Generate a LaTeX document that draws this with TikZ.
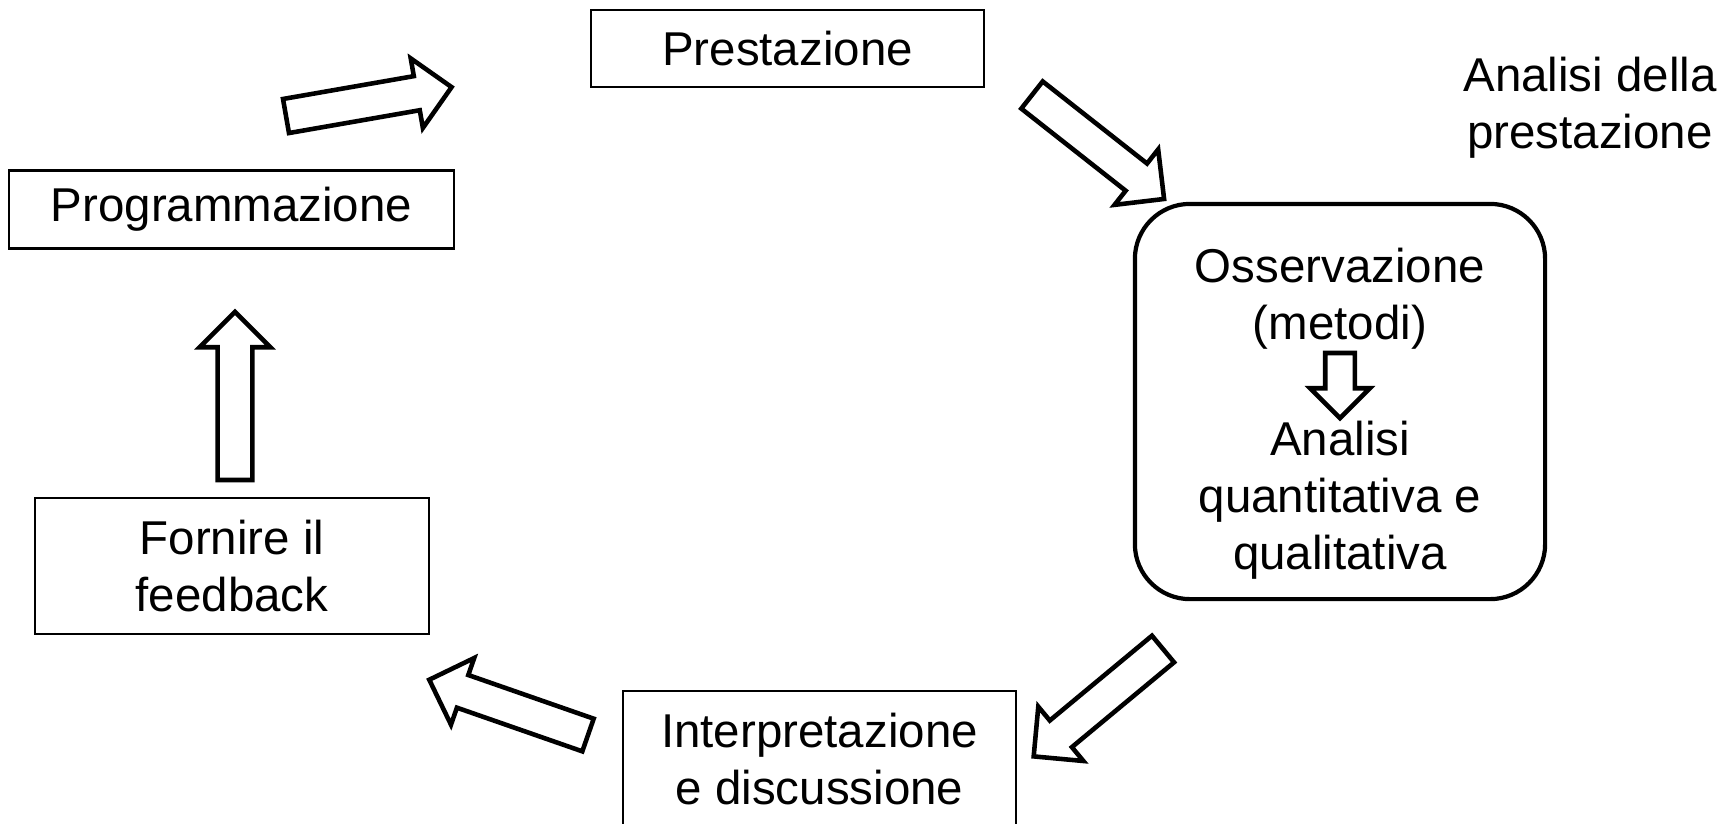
\documentclass[tikz,border=0pt]{standalone}
\usepackage{fontspec}
\setmainfont{Liberation Sans}
\usetikzlibrary{shapes.arrows, positioning}

\begin{document}
\begin{tikzpicture}[
  x=0.01cm, y=-0.01cm,
  box/.style={rectangle, draw, line width=0.6pt, align=center, inner sep=0pt, font=\fontsize{13.5}{16.2}\selectfont},
  lbl/.style={align=center, inner sep=0pt, font=\fontsize{13.5}{16.2}\selectfont},
  barrow/.style={single arrow, draw, line width=1.3pt, fill=white, inner sep=0.15cm, single arrow head extend=0.18cm, single arrow tip angle=90, minimum height=1.68cm, outer sep=0pt, anchor=tail}
]
  \useasboundingbox (0,0) rectangle (1733,823);

  % Steps of the cycle
  \node[box, minimum width=3.93cm, minimum height=0.77cm] (prest) at (787.5,48.5) {Prestazione};
  \node[box, minimum width=4.45cm, minimum height=0.78cm] (prog) at (231.5,209.5) {Programmazione};
  \node[box, minimum width=3.94cm, minimum height=1.36cm] (feed) at (232,566) {Fornire il\\feedback};
  \node[box, minimum width=3.93cm, minimum height=1.36cm] (interp) at (819.5,759) {Interpretazione\\e discussione};

  % Analysis block
  \node[box, rounded corners=0.55cm, line width=1.2pt, minimum width=4.1cm, minimum height=3.95cm] (obs) at (1340,401.5) {};
  \node[lbl] (obstxt) at (1340,299) {Osservazione\\(metodi)};
  \node[lbl] (anltxt) at (1340,500) {Analisi\\quantitativa e\\qualitativa};
  \node[barrow, rotate=-90, minimum height=0.65cm, inner sep=0.125cm, single arrow head extend=0.15cm] (a0) at (1340,353) {};

  \node[lbl] (title) at (1590,108) {Analisi della\\prestazione};

  % Block arrows
  \node[barrow, rotate=9.9] (a1) at (286,116) {};
  \node[barrow, rotate=-38.2] (a2) at (1032,95) {};
  \node[barrow, rotate=219.7] (a3) at (1163,649) {};
  \node[barrow, rotate=160.8] (a4) at (588,735) {};
  \node[barrow, rotate=90] (a5) at (235,480) {};
\end{tikzpicture}
\end{document}
